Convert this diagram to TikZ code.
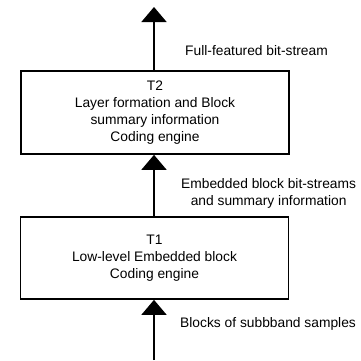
\documentclass[tikz,border=0pt]{standalone}
\usepackage{fontspec}
\setmainfont{Liberation Sans}
\usetikzlibrary{arrows.meta}
\begin{document}
\begin{tikzpicture}[x=1pt,y=1pt,
  blockbox/.style={draw, line width=1.7pt, minimum width=268pt, inner sep=0pt, align=center,
    font=\fontsize{13.8}{17}\selectfont},
  flow/.style={line width=1.7pt, -{Triangle[width=25pt,length=15pt]}},
  lbl/.style={anchor=west, align=center, inner sep=0pt, font=\fontsize{13.8}{17}\selectfont}]
\useasboundingbox (0,0) rectangle (361,360);
\node[blockbox, minimum height=83pt] (t2) at (155,{360-112.5}) {T2\\Layer formation and Block\\summary information\\Coding engine};
\node[blockbox, minimum height=82pt] (t1) at (154.5,{360-258}) {T1\\Low-level Embedded block\\Coding engine};
\coordinate (top) at (154,{360-7});
\coordinate (bot) at (154,0);
\draw[flow] (t2.north -| top) -- (top);
\draw[flow] (t1.north -| top) -- (t2.south -| top);
\draw[flow] (bot) -- (t1.south -| top);
\node[lbl] (l1) at (185,{360-51}) {Full-featured bit-stream};
\node[lbl] (l2) at (181,{360-193.5}) {Embedded block bit-streams\\and summary information};
\node[lbl] (l3) at (180,{360-324}) {Blocks of subbband samples};
\end{tikzpicture}
\end{document}
